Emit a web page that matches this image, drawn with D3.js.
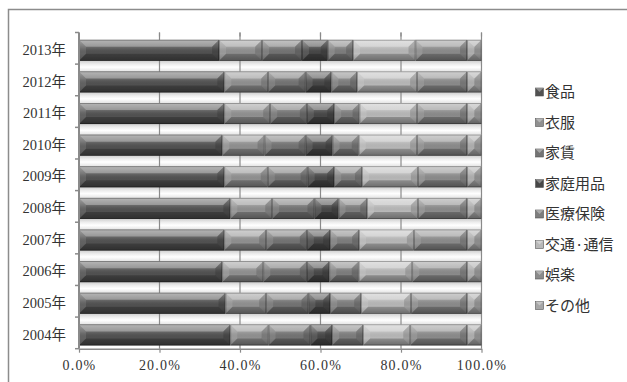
<!DOCTYPE html>
<html>
<head>
<meta charset="utf-8">
<script src="https://cdn.jsdelivr.net/npm/d3@7"></script>
<style>
  html, body { margin: 0; padding: 0; background: #fff; }
  svg { display: block; }
</style>
</head>
<body>
<svg id="chart" width="627" height="382"></svg>
<script>
// Household spending shares by year (%)
const years = ["2004年", "2005年", "2006年", "2007年", "2008年", "2009年", "2010年", "2011年", "2012年", "2013年"];
const categories = ["食品", "衣服", "家賃", "家庭用品", "医療保険", "交通·通信", "娯楽", "その他"];

const food          = [37.6, 36.4, 35.6, 36.1, 37.6, 36.1, 35.6, 36.1, 36.1, 34.8];
const clothing      = [ 9.5, 10.1, 10.2, 10.4, 10.4, 10.8, 10.5, 11.4, 10.9, 10.7];
const rent          = [10.4, 10.5, 10.8, 10.1, 10.5,  9.9, 10.2,  9.1,  9.3,  9.9];
const household     = [ 5.4,  5.4,  5.6,  5.8,  6.0,  6.6,  6.7,  6.8,  6.4,  6.4];
const medical       = [ 7.7,  7.7,  7.3,  7.2,  7.1,  6.9,  6.5,  6.3,  6.4,  6.3];
const transport     = [11.7, 12.4, 13.3, 13.6, 12.6, 13.9, 14.5, 14.3, 14.9, 15.5];
const entertainment = [14.1, 13.9, 13.6, 13.2, 12.2, 12.2, 12.4, 12.4, 12.4, 12.8];
const other         = [ 3.6,  3.6,  3.6,  3.6,  3.6,  3.6,  3.6,  3.6,  3.6,  3.6];

const xTicks = [0, 0.2, 0.4, 0.6, 0.8, 1.0];

const seriesValues = [food, clothing, rent, household, medical, transport, entertainment, other];
const colors = ["#515151", "#909090", "#737373", "#474747", "#7d7d7d", "#b8b8b8", "#8b8b8b", "#a6a6a6"];

const rows = years.map((yr, i) => {
  const r = { year: yr };
  categories.forEach((c, j) => { r[c] = seriesValues[j][i]; });
  return r;
});

const svg = d3.select("#chart");
const plot = { left: 79, right: 481.5, top: 32.5, bottom: 348.7 };

// chart frame
svg.append("rect")
  .attr("x", 8.5).attr("y", 9.5).attr("width", 640).attr("height", 400)
  .attr("fill", "none").attr("stroke", "#8c8c8c").attr("stroke-width", 1.5);

const x = d3.scaleLinear().domain([0, 1]).range([plot.left, plot.right]);
const y = d3.scaleBand().domain(years.slice().reverse())
  .range([plot.top, plot.bottom]).paddingInner(0.335).paddingOuter(0.1675);

const stack = d3.stack().keys(categories).offset(d3.stackOffsetExpand);
const stacked = stack(rows);

const shift = 2;
const defs = svg.append("defs");

// gap shading between bars
const gapGrad = defs.append("linearGradient").attr("id", "gapGrad")
  .attr("x1", 0).attr("y1", 0).attr("x2", 0).attr("y2", 1);
gapGrad.append("stop").attr("offset", "0%").attr("stop-color", "#cfcfcf");
gapGrad.append("stop").attr("offset", "30%").attr("stop-color", "#ececec");
gapGrad.append("stop").attr("offset", "60%").attr("stop-color", "#ffffff");
gapGrad.append("stop").attr("offset", "100%").attr("stop-color", "#e4e4e4");

// face gradient overlay for bars
const faceGrad = defs.append("linearGradient").attr("id", "faceGrad")
  .attr("x1", 0).attr("y1", 0).attr("x2", 0).attr("y2", 1);
faceGrad.append("stop").attr("offset", "0%").attr("stop-color", "#fff").attr("stop-opacity", 0.4);
faceGrad.append("stop").attr("offset", "35%").attr("stop-color", "#fff").attr("stop-opacity", 0.14);
faceGrad.append("stop").attr("offset", "65%").attr("stop-color", "#000").attr("stop-opacity", 0.0);
faceGrad.append("stop").attr("offset", "100%").attr("stop-color", "#000").attr("stop-opacity", 0.25);

const gapG = svg.append("g");
years.forEach(yr => {
  const top = y(yr) + shift + y.bandwidth();
  const h = y.step() - y.bandwidth();
  if (top + h <= plot.bottom + 1) {
    gapG.append("rect").attr("x", plot.left).attr("y", top)
      .attr("width", plot.right - plot.left).attr("height", Math.min(h, plot.bottom - top))
      .attr("fill", "url(#gapGrad)");
  }
});

// vertical gridlines
svg.append("g").selectAll("line").data(xTicks.slice(1)).join("line")
  .attr("x1", d => x(d)).attr("x2", d => x(d))
  .attr("y1", plot.top).attr("y2", plot.bottom)
  .attr("stroke", "#8a8a8a").attr("stroke-width", 1.2);

// bevelled bar segments
const segG = svg.append("g");
stacked.forEach((layer, si) => {
  layer.forEach(d => {
    const x0 = x(d[0]), x1 = x(d[1]);
    const y0 = y(d.data.year) + shift, y1 = y0 + y.bandwidth();
    const w = x1 - x0, h = y1 - y0;
    const b = Math.min(7, w / 2, h / 2);
    const g = segG.append("g");
    g.append("rect").attr("x", x0).attr("y", y0).attr("width", w).attr("height", h)
      .attr("fill", colors[si]);
    g.append("rect").attr("x", x0).attr("y", y0).attr("width", w).attr("height", h)
      .attr("fill", "url(#faceGrad)");
    const poly = pts => pts.map(p => p.join(",")).join(" ");
    g.append("polygon")
      .attr("points", poly([[x0, y0], [x1, y0], [x1 - b, y0 + b], [x0 + b, y0 + b]]))
      .attr("fill", "#fff").attr("fill-opacity", 0.3);
    g.append("polygon")
      .attr("points", poly([[x0, y1], [x1, y1], [x1 - b, y1 - b], [x0 + b, y1 - b]]))
      .attr("fill", "#000").attr("fill-opacity", 0.22);
    g.append("polygon")
      .attr("points", poly([[x0, y0], [x0 + b, y0 + b], [x0 + b, y1 - b], [x0, y1]]))
      .attr("fill", "#fff").attr("fill-opacity", 0.1);
    g.append("polygon")
      .attr("points", poly([[x1, y0], [x1 - b, y0 + b], [x1 - b, y1 - b], [x1, y1]]))
      .attr("fill", "#000").attr("fill-opacity", 0.14);
    g.append("rect").attr("x", x0 + 0.4).attr("y", y0 + 0.4)
      .attr("width", Math.max(0, w - 0.8)).attr("height", h - 0.8)
      .attr("fill", "none").attr("stroke", "#000").attr("stroke-opacity", 0.35)
      .attr("stroke-width", 0.8);
  });
});

// x axis
const xAxis = svg.append("g").attr("transform", `translate(0,${plot.bottom})`)
  .call(d3.axisBottom(x).tickValues(xTicks).tickFormat(d3.format(".1%"))
    .tickSizeInner(4).tickSizeOuter(0).tickPadding(7));
xAxis.select(".domain").attr("stroke", "#8a8a8a").attr("stroke-width", 1.5);
xAxis.selectAll(".tick line").attr("stroke", "#8a8a8a").attr("stroke-width", 1.2);
xAxis.selectAll(".tick text")
  .attr("font-family", "'Liberation Serif', 'DejaVu Serif', serif")
  .attr("font-size", 14).attr("letter-spacing", 1.2).attr("fill", "#333");

// top tick stubs
svg.append("g").selectAll("line").data(xTicks).join("line")
  .attr("x1", d => x(d)).attr("x2", d => x(d))
  .attr("y1", plot.top).attr("y2", plot.top + 4)
  .attr("stroke", "#8a8a8a").attr("stroke-width", 1.2);

// y axis
const yAxis = svg.append("g").attr("transform", `translate(${plot.left},${shift})`)
  .call(d3.axisLeft(y).tickSizeInner(0).tickSizeOuter(0).tickPadding(13));
yAxis.select(".domain").remove();
yAxis.selectAll(".tick text")
  .attr("font-family", "'Liberation Serif', 'Noto Sans CJK JP', serif")
  .attr("font-size", 14.5).attr("fill", "#333");

svg.append("line").attr("x1", plot.left).attr("x2", plot.left)
  .attr("y1", plot.top).attr("y2", plot.bottom)
  .attr("stroke", "#8a8a8a").attr("stroke-width", 2);

const boundaries = d3.range(years.length + 1).map(i => plot.top + i * y.step());
svg.append("g").selectAll("line").data(boundaries).join("line")
  .attr("x1", plot.left - 4).attr("x2", plot.left)
  .attr("y1", d => d).attr("y2", d => d)
  .attr("stroke", "#8a8a8a").attr("stroke-width", 1.5);

// legend
const legend = svg.append("g");
const legTop = 92, legStep = 30.5;
categories.forEach((c, i) => {
  const cy = legTop + i * legStep;
  const g = legend.append("g");
  g.append("rect").attr("x", 535.5).attr("y", cy - 4).attr("width", 8).attr("height", 8)
    .attr("fill", colors[i]).attr("stroke", "#555").attr("stroke-width", 0.6);
  g.append("polygon")
    .attr("points", `${535.5},${cy - 4} ${543.5},${cy - 4} ${539.5},${cy}`)
    .attr("fill", "#fff").attr("fill-opacity", 0.35);
  g.append("text").attr("x", 545).attr("y", cy).attr("dy", "0.35em")
    .attr("font-family", "'Noto Sans CJK JP', sans-serif")
    .attr("font-size", 15).attr("fill", "#333").text(c);
});
</script>
</body>
</html>
